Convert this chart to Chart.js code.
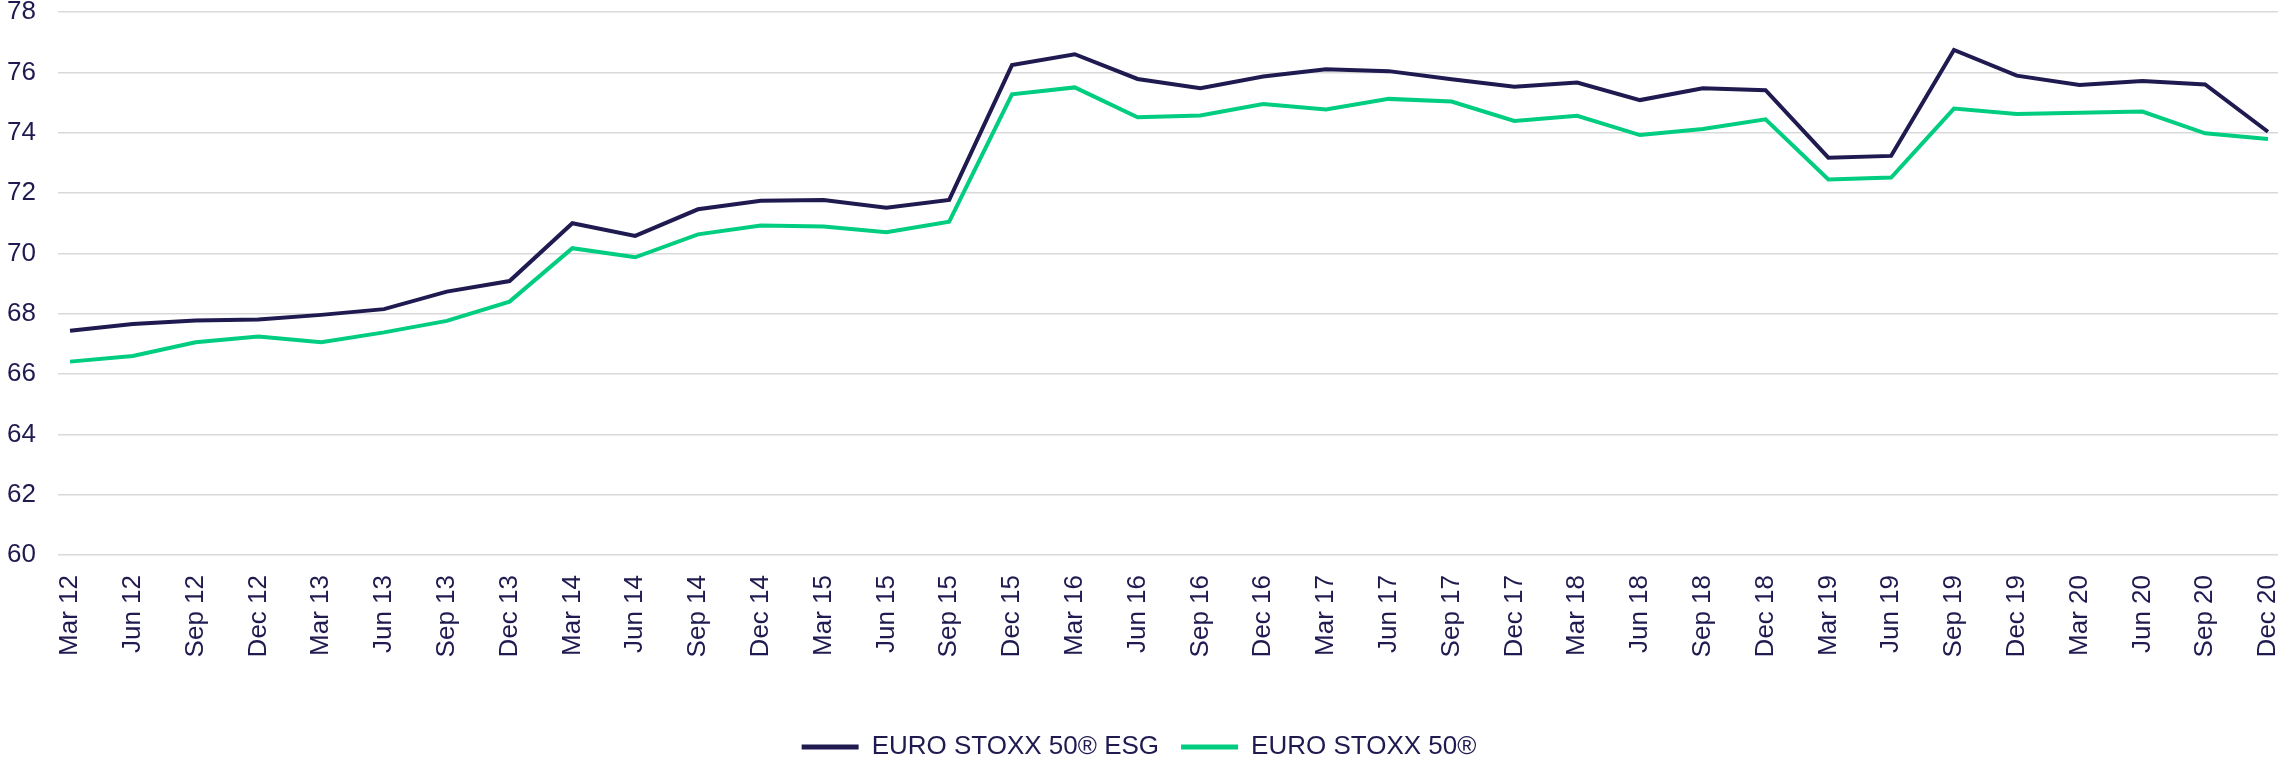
<!DOCTYPE html>
<html>
<head>
<meta charset="utf-8">
<script src="https://cdn.jsdelivr.net/npm/chart.js@4/dist/chart.umd.min.js"></script>
<style>
  html, body { margin: 0; padding: 0; background: #ffffff; }
  #wrap { width: 2280px; height: 762px; position: relative; }
</style>
</head>
<body>
<div id="wrap"><canvas id="c"></canvas></div>
<script>
const categories = ["Mar 12","Jun 12","Sep 12","Dec 12","Mar 13","Jun 13","Sep 13","Dec 13","Mar 14","Jun 14","Sep 14","Dec 14","Mar 15","Jun 15","Sep 15","Dec 15","Mar 16","Jun 16","Sep 16","Dec 16","Mar 17","Jun 17","Sep 17","Dec 17","Mar 18","Jun 18","Sep 18","Dec 18","Mar 19","Jun 19","Sep 19","Dec 19","Mar 20","Jun 20","Sep 20","Dec 20"];
const esgValues = [67.43,67.66,67.77,67.81,67.96,68.15,68.73,69.08,71.00,70.58,71.46,71.74,71.77,71.51,71.77,76.24,76.60,75.78,75.47,75.86,76.10,76.04,75.77,75.52,75.66,75.08,75.47,75.41,73.17,73.23,76.74,75.89,75.58,75.71,75.60,74.03];
const benchValues = [66.41,66.60,67.05,67.24,67.05,67.38,67.76,68.40,70.17,69.87,70.63,70.92,70.89,70.70,71.05,75.27,75.50,74.51,74.57,74.95,74.77,75.12,75.03,74.39,74.56,73.92,74.12,74.44,72.45,72.51,74.80,74.62,74.66,74.70,73.98,73.79];
const seriesNames = ["EURO STOXX 50\u00AE ESG", "EURO STOXX 50\u00AE"];
const yTicks = { min: 60, max: 78, step: 2 };

const NAVY = "#1f1a4f";
const GREEN = "#00cd80";
const FONT = "'Liberation Sans', Arial, sans-serif";

const toPoints = arr => arr.map((v, i) => ({ x: i, y: v }));

new Chart(document.getElementById("c"), {
  type: "line",
  data: {
    datasets: [
      { label: seriesNames[0], data: toPoints(esgValues), borderColor: NAVY, backgroundColor: NAVY, borderWidth: 4, pointRadius: 0, tension: 0, order: 0 },
      { label: seriesNames[1], data: toPoints(benchValues), borderColor: GREEN, backgroundColor: GREEN, borderWidth: 4, pointRadius: 0, tension: 0, order: 1 }
    ]
  },
  options: {
    responsive: true,
    maintainAspectRatio: false,
    animation: false,
    layout: { padding: { top: 12, left: 0, right: 2, bottom: -8 } },
    scales: {
      x: {
        type: "linear",
        min: -0.191,
        max: 35.16,
        grid: { display: false, drawTicks: false },
        border: { display: false },
        ticks: {
          stepSize: 1,
          includeBounds: false,
          autoSkip: false,
          maxTicksLimit: 100,
          minRotation: 90,
          maxRotation: 90,
          padding: 20,
          color: NAVY,
          font: { family: FONT, size: 26 },
          callback: v => (Number.isInteger(v) && categories[v] !== undefined) ? categories[v] : ""
        },
        afterFit: s => { s.paddingLeft = 0; s.paddingRight = 0; s.height = 157; }
      },
      y: {
        min: yTicks.min,
        max: yTicks.max,
        grid: { color: "#d9d9d9", lineWidth: 1.6, drawTicks: false },
        border: { display: false },
        ticks: {
          stepSize: yTicks.step,
          padding: 22,
          color: NAVY,
          font: { family: FONT, size: 26 }
        },
        afterFit: s => { s.width = 58; s.paddingTop = 0; s.paddingBottom = 0; }
      }
    },
    plugins: {
      tooltip: { enabled: false },
      legend: {
        position: "bottom",
        labels: {
          color: NAVY,
          font: { family: FONT, size: 26 },
          boxWidth: 57,
          boxHeight: 5,
          padding: 22,
          generateLabels: chart => Chart.defaults.plugins.legend.labels.generateLabels(chart).map(l => Object.assign(l, { lineWidth: 0, fillStyle: l.strokeStyle }))
        }
      }
    }
  }
});
</script>
</body>
</html>
